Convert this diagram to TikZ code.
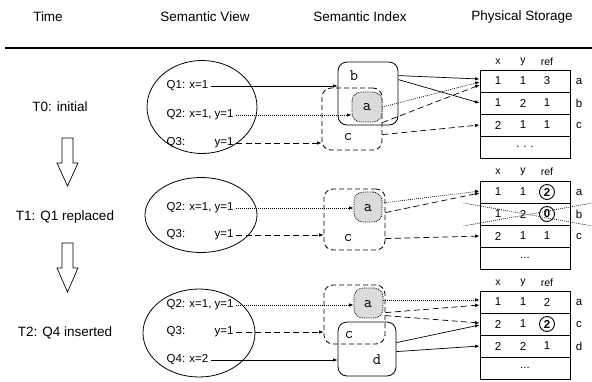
\documentclass[tikz,border=0pt]{standalone}
\usepackage{fontspec}
\setmainfont{Liberation Sans}
\usetikzlibrary{arrows.meta,calc,shapes.geometric}
\tikzset{
  hdr/.style={font=\fontsize{13.5}{15}\selectfont, inner sep=0},
  tlab/.style={font=\fontsize{13.5}{15}\selectfont, inner sep=0},
  qtext/.style={font=\fontsize{11.5}{13}\selectfont, inner sep=2.5pt, anchor=west},
  view/.style={draw, ellipse, line width=0.8pt, inner sep=0},
  ibox/.style={draw, rounded corners=9pt, line width=0.8pt, inner sep=0},
  dbox/.style={ibox, dash pattern=on 5pt off 3pt},
  abox/.style={ibox, dash pattern=on 0.8pt off 1pt, fill=black!14},
  ilab/.style={font=\ttfamily\fontsize{16}{18}\selectfont, inner sep=0},
  rowbox/.style={draw, line width=0.8pt, minimum width=90, minimum height=22, inner sep=0},
  cell/.style={font=\fontsize{11.5}{13}\selectfont, inner sep=0},
  colh/.style={font=\fontsize{10.5}{12}\selectfont, inner sep=0},
  plain/.style={},
  circ/.style={draw, circle, minimum size=15pt, inner sep=0pt, line width=0.9pt, font=\bfseries\fontsize{11.5}{13}\selectfont},
  solidarr/.style={-{Latex[length=4.5pt,width=3.5pt]}, line width=0.7pt},
  dasharr/.style={solidarr, dash pattern=on 6pt off 3.5pt},
  dotarr/.style={solidarr, dash pattern=on 0.8pt off 1.2pt},
  hollow/.style={draw, line width=0.7pt},
}
% \prow{name}{ycenter}{x}{y}{ref}{label}{refstyle}
\newcommand\prow[7]{%
  \node[rowbox] (#1) at (525,#2) {};
  \node[cell] (#1x) at (498,#2) {#3};
  \node[cell] (#1y) at (523,#2) {#4};
  \node[cell,#7] (#1r) at (547,#2) {#5};
  \node[cell] (#1l) at (579,#2) {#6};
}
\newcommand\pend[3]{%
  \node[rowbox] (#1) at (525,#2) {};
  \node[cell] (#1t) at (525,#2) {#3};
}
\newcommand\phead[2]{%
  \node[colh] (#1x) at (498,#2) {x};
  \node[colh] (#1y) at (523,#2) {y};
  \node[colh] (#1r) at (547,#2) {ref};
}
\begin{document}
\begin{tikzpicture}[x=1pt,y=-1pt]
\useasboundingbox (0,0) rectangle (592,381);

% header
\node[hdr] (hTime) at (48,17) {Time};
\node[hdr] (hView) at (205,17) {Semantic View};
\node[hdr] (hIndex) at (360,17) {Semantic Index};
\node[hdr] (hStore) at (522,17) {Physical Storage};
\draw[line width=1.1pt] (5,48) -- (592,48);

% time labels
\node[tlab] (T0) at (60,107) {T0: initial};
\node[tlab] (T1) at (65,217) {T1: Q1 replaced};
\node[tlab] (T2) at (65,333) {T2: Q4 inserted};
\draw[hollow] (62,138) -- (73,138) -- (73,163) -- (78,163) -- (67.5,186) -- (57,163) -- (62,163) -- cycle;
\draw[hollow] (62,243) -- (73,243) -- (73,268) -- (78,268) -- (67.5,292) -- (57,268) -- (62,268) -- cycle;

% ---------------- T0 ----------------
\node[view, minimum width=110, minimum height=93] (v0) at (202,107) {};
\node[qtext] (q01) at (164,86) {Q1: x=1};
\node[qtext] (q02) at (164,115) {Q2: x=1, y=1};
\node[qtext] (q03) at (164,143) {Q3:};
\node[qtext, anchor=east] (q03y) at (q02.east |- 0,143) {y=1};

\node[dbox, minimum width=60, minimum height=62] (c0) at (352,119) {};
\node[ibox, minimum width=60, minimum height=63] (b0) at (368,93.5) {};
\node[abox, minimum width=30, minimum height=30] (a0) at (367,107) {};
\node[ilab] (lb0) at (354,76) {b};
\node[ilab] (lc0) at (348,137) {c};
\node[ilab] (la0) at (367,107) {a};

\phead{h0}{62}
\prow{t0a}{81}{1}{1}{3}{a}{plain}
\prow{t0b}{103}{1}{2}{1}{b}{plain}
\prow{t0c}{125}{2}{1}{1}{c}{plain}
\pend{t0e}{147}{.\,\,.\,\,.}

\draw[solidarr] (q01.east) -- (q01.east -| b0.west);
\draw[dotarr] (q02.east) -- (q02.east -| a0.west);
\draw[dasharr] (q03y.east) -- (q03y.east -| c0.west);

\draw[solidarr] ($(b0.north east)+(0,14)$) -- ($(t0a.west)+(0,-2)$);
\draw[solidarr] ($(b0.north east)+(0,18)$) -- (t0b.west);
\draw[dotarr] (a0.east) -- ($(t0a.west)+(0,1)$);
\draw[dasharr] ($(c0.north east)+(0,35)$) -- ($(t0a.west)+(0,4)$);
\draw[dasharr] ($(c0.north east)+(0,47)$) -- (t0c.west);

% ---------------- T1 ----------------
\node[view, minimum width=112, minimum height=75] (v1) at (201,215) {};
\node[qtext] (q12) at (164,208) {Q2: x=1, y=1};
\node[qtext] (q13) at (164,235) {Q3:};
\node[qtext, anchor=east] (q13y) at (q12.east |- 0,235) {y=1};

\node[dbox, minimum width=61, minimum height=61] (c1) at (354.5,219.5) {};
\node[abox, minimum width=28, minimum height=30] (a1) at (368,207) {};
\node[ilab] (la1) at (368,208) {a};
\node[ilab] (lc1) at (348,238) {c};

\phead{h1}{172}
\prow{t1a}{192}{1}{1}{2}{a}{circ}
\prow{t1b}{214}{1}{2}{0}{b}{circ}
\prow{t1c}{236}{2}{1}{1}{c}{plain}
\pend{t1e}{258}{...}

\coordinate (x1a) at ($(t1b.west)+(-16,-11)$);
\coordinate (x1b) at ($(t1b.east)+(22,12)$);
\coordinate (x1c) at ($(t1b.west)+(-16,12)$);
\coordinate (x1d) at ($(t1b.east)+(22,-11)$);
\draw[line width=0.7pt, dash pattern=on 0.8pt off 1.2pt] (x1a) -- (x1b);
\draw[line width=0.7pt, dash pattern=on 0.8pt off 1.2pt] (x1c) -- (x1d);

\draw[dotarr] (q12.east) -- (q12.east -| a1.west);
\draw[dasharr] (q13y.east) -- (q13y.east -| c1.west);

\draw[dotarr] ($(a1.east)+(0,-4)$) -- ($(t1a.west)+(0,-1)$);
\draw[dasharr] ($(c1.north east)+(0,24)$) -- ($(t1a.west)+(0,1)$);
\draw[dasharr] ($(c1.north east)+(0,50)$) -- (t1c.west);

% ---------------- T2 ----------------
\node[view, minimum width=112, minimum height=88] (v2) at (199,333) {};
\node[qtext] (q22) at (164,305) {Q2: x=1, y=1};
\node[qtext] (q23) at (164,332) {Q3:};
\node[qtext, anchor=east] (q23y) at (q22.east |- 0,332) {y=1};
\node[qtext] (q24) at (164,360) {Q4: x=2};

\node[dbox, minimum width=61, minimum height=59] (c2) at (354.5,314.5) {};
\node[ibox, minimum width=58, minimum height=54] (d2) at (367,349) {};
\node[abox, minimum width=29, minimum height=30] (a2) at (368.5,303) {};
\node[ilab] (la2) at (368,304) {a};
\node[ilab] (lc2) at (349,335) {c};
\node[ilab] (ld2) at (377,360) {d};

\phead{h2}{283}
\prow{t2a}{302}{1}{1}{2}{a}{plain}
\prow{t2c}{324}{2}{1}{2}{c}{circ}
\prow{t2d}{346}{2}{2}{1}{d}{plain}
\pend{t2e}{368}{...}

\draw[dotarr] (q22.east) -- (q22.east -| a2.west);
\draw[dasharr] (q23y.east) -- (q23y.east -| c2.west);
\draw[solidarr] (q24.east) -- (q24.east -| d2.west);

\draw[dotarr] ($(a2.east)+(0,-3)$) -- ($(t2a.west)+(0,-2)$);
\draw[dasharr] ($(c2.north east)+(0,28)$) -- ($(t2a.west)+(0,3)$);
\draw[dasharr] ($(c2.north east)+(0,31)$) -- ($(t2c.west)+(0,-1)$);
\draw[solidarr] ($(d2.north east)+(0,21)$) -- ($(t2c.west)+(0,1)$);
\draw[solidarr] ($(d2.north east)+(0,30)$) -- (t2d.west);
\end{tikzpicture}
\end{document}
